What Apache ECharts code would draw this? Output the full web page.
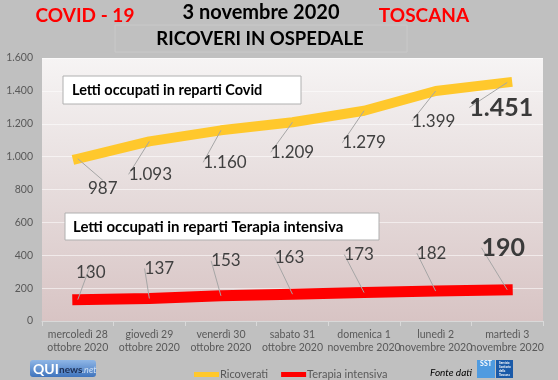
<!DOCTYPE html>
<html><head><meta charset="utf-8">
<script src="https://cdn.jsdelivr.net/npm/echarts@6/dist/echarts.min.js"></script>
<style>html,body{margin:0;padding:0;background:#c0c0c0}#c{width:558px;height:380px}</style>
</head><body><div id="c"></div>
<script>
const categories = ['mercoledì 28\nottobre 2020','giovedì 29\nottobre 2020','venerdì 30\nottobre 2020','sabato 31\nottobre 2020','domenica 1\nnovembre 2020','lunedì 2\nnovembre 2020','martedì 3\nnovembre 2020'];
const ricoverati = [987,1093,1160,1209,1279,1399,1451];
const terapia = [130,137,153,163,173,182,190];
const seriesNames = ['Ricoverati','Terapia intensiva'];
const yMin = 0, yMax = 1600, yStep = 200;

function fmt(v){ return String(v).replace(/\B(?=(\d{3})+(?!\d))/g,'.'); }
const FONT = 'Lato';
const chart = echarts.init(document.getElementById('c'));
const yOff = [[25,30],[1,33],[4,32],[0,30],[0,32],[-2,30],[-6,25]];
const rOff = [[13,-27],[10,-30],[5,-35],[-3,-37],[-5,-38],[-4,-38],[-4,-42]];
function mk(arr){ const last = arr.length-1; return arr.map((v,i)=> i===last ? {value:v,label:{fontSize:25,fontWeight:'bold',color:'#3a3a3a'}} : v); }
const option = {
  backgroundColor:'#c0c0c0',
  animation:false,
  textStyle:{fontFamily:FONT},
  grid:{left:42,right:15,top:58,bottom:59,show:true,borderWidth:0,
    backgroundColor:{type:'linear',x:0,y:0,x2:0,y2:1,colorStops:[{offset:0,color:'#f6f4f4'},{offset:0.5,color:'#e6dcdc'},{offset:1,color:'#d8c4c4'}]}},
  xAxis:{type:'category',data:categories,boundaryGap:true,
    axisLine:{lineStyle:{color:'#d9d9d9'}},axisTick:{show:true,lineStyle:{color:'#d9d9d9'}},
    axisLabel:{color:'#595959',fontSize:10.5,lineHeight:13,margin:7,fontFamily:FONT,interval:0}},
  yAxis:{type:'value',min:yMin,max:yMax,interval:yStep,
    axisLine:{show:false},axisTick:{show:false},
    axisLabel:{color:'#595959',fontSize:10.5,margin:9,fontFamily:FONT,formatter:v=>fmt(v)},
    splitLine:{lineStyle:{color:'rgba(255,255,255,0.55)',width:1}}},
  legend:{left:189,top:364,itemWidth:25,itemHeight:5,itemGap:13,icon:'rect',
    textStyle:{color:'#595959',fontSize:11,fontFamily:FONT,padding:[0,0,0,-4]},
    data:seriesNames},
  series:[
    {name:seriesNames[0],type:'line',data:mk(ricoverati),symbol:'circle',symbolSize:0,showSymbol:true,
      color:'#ffc82c',itemStyle:{color:'#ffc82c'},
      lineStyle:{color:'#ffc82c',width:10,cap:'square'},
      label:{show:true,position:'inside',color:'#404040',fontSize:17,fontFamily:FONT,formatter:p=>fmt(p.value)},
      labelLine:{show:true,lineStyle:{color:'#a6a6a6',width:1}},
      labelLayout:p=>({dx:yOff[p.dataIndex][0],dy:yOff[p.dataIndex][1]}),
      z:3},
    {name:seriesNames[1],type:'line',data:mk(terapia),symbol:'circle',symbolSize:0,showSymbol:true,
      color:'#ff0000',itemStyle:{color:'#ff0000'},
      lineStyle:{color:'#ff0000',width:11,cap:'square'},
      label:{show:true,position:'inside',color:'#404040',fontSize:17,fontFamily:FONT,formatter:p=>fmt(p.value)},
      labelLine:{show:true,lineStyle:{color:'#a6a6a6',width:1}},
      labelLayout:p=>({dx:rOff[p.dataIndex][0],dy:rOff[p.dataIndex][1]}),
      z:3}
  ],
  graphic:[
    {type:'rect',shape:{x:115,y:25,width:292,height:27},style:{fill:'none',stroke:'#c9c9c9',lineWidth:1},z:1},
    {type:'text',x:85,y:16,style:{text:'COVID - 19',fill:'#ff0000',font:'bold 19px Lato',align:'center',verticalAlign:'middle'},z:10},
    {type:'text',x:261,y:13,style:{text:'3 novembre 2020',fill:'#000',font:'bold 20px Lato',align:'center',verticalAlign:'middle'},z:10},
    {type:'text',x:424,y:16,style:{text:'TOSCANA',fill:'#ff0000',font:'bold 19px Lato',align:'center',verticalAlign:'middle'},z:10},
    {type:'text',x:260,y:39,style:{text:'RICOVERI IN OSPEDALE',fill:'#000',font:'bold 18.5px Lato',align:'center',verticalAlign:'middle'},z:10},
    {type:'rect',shape:{x:63,y:76,width:238,height:28},style:{fill:'#fff',stroke:'#b0b0b0',lineWidth:1},z:10},
    {type:'text',x:72,y:90,style:{text:'Letti occupati in reparti Covid',fill:'#000',font:'bold 14.5px Lato',verticalAlign:'middle'},z:11},
    {type:'rect',shape:{x:65,y:213,width:314,height:27},style:{fill:'#fff',stroke:'#b0b0b0',lineWidth:1},z:10},
    {type:'text',x:73,y:227,style:{text:'Letti occupati in reparti Terapia intensiva',fill:'#000',font:'bold 15px Lato',verticalAlign:'middle'},z:11},
    {type:'rect',shape:{x:30,y:360,width:66,height:17,r:3},style:{fill:{type:'linear',x:0,y:0,x2:0,y2:1,colorStops:[{offset:0,color:'#8fb6e6'},{offset:1,color:'#3f74bd'}]}},z:10},
    {type:'text',x:33,y:369,style:{text:'QUI',fill:'#fff',font:'bold 14px Lato',verticalAlign:'middle'},z:11},
    {type:'text',x:59,y:370,style:{text:'news',fill:'#1d2f55',font:'bold 10px Lato',verticalAlign:'middle'},z:11},
    {type:'text',x:82,y:370,style:{text:'.net',fill:'#cfe0f5',font:'italic 9px Lato',verticalAlign:'middle'},z:11},
    {type:'text',x:472,y:373,style:{text:'Fonte dati',fill:'#000',font:'italic 10px Lato',align:'right',verticalAlign:'middle'},z:11},
    {type:'rect',shape:{x:477,y:360,width:18,height:18},style:{fill:'#4f9be0'},z:10},
    {type:'text',x:486,y:364,style:{text:'SST',fill:'#fff',font:'bold 7px Lato',align:'center',verticalAlign:'middle'},z:11},
    {type:'rect',shape:{x:496,y:360,width:17,height:18},style:{fill:'#1a5aa8'},z:10},
    {type:'text',x:499,y:369,style:{text:'Servizio\nSanitario\ndella\nToscana',fill:'#fff',font:'bold 3px Lato',lineHeight:4,verticalAlign:'middle'},z:11}
  ]
};
chart.setOption(option);
</script></body></html>
